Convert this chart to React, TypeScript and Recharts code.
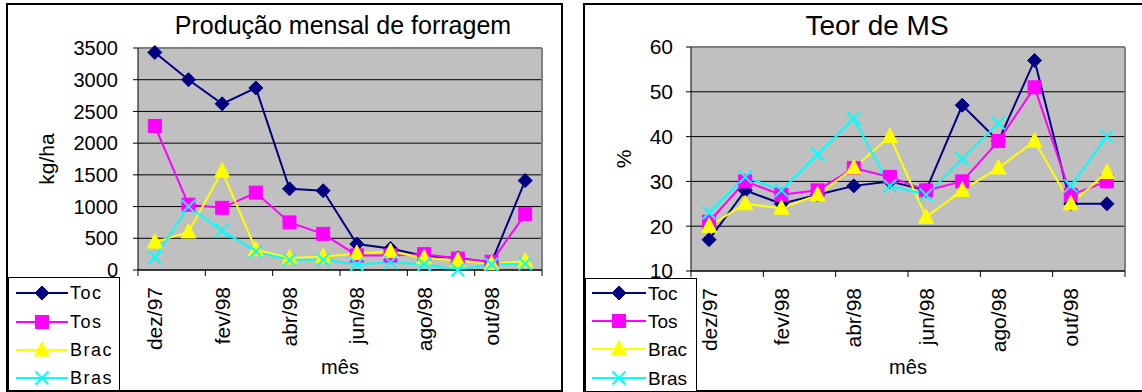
import React from 'react';
import { LineChart, Line, XAxis, YAxis, CartesianGrid } from 'recharts';

// Meses de avaliação
const meses = ['dez/97', 'jan/98', 'fev/98', 'mar/98', 'abr/98', 'mai/98', 'jun/98', 'jul/98', 'ago/98', 'set/98', 'out/98', 'nov/98'];

// Produção mensal de forragem (kg/ha)
const prodToc = [3430, 3000, 2620, 2870, 1280, 1250, 410, 340, 220, 190, 120, 1410];
const prodTos = [2270, 1030, 980, 1220, 750, 570, 230, 230, 250, 180, 130, 880];
const prodBrac = [440, 600, 1560, 320, 190, 210, 260, 290, 190, 150, 100, 140];
const prodBras = [200, 1000, 620, 290, 160, 160, 90, 120, 90, 0, 90, 100];
const prodTicks = [0, 500, 1000, 1500, 2000, 2500, 3000, 3500];

// Teor de matéria seca (%)
const msToc = [17, 28, 25, 27, 29, 30, 28, 47, 39, 57, 25, 25];
const msTos = [21, 30, 27, 28, 33, 31, 28, 30, 39, 51, 27, 30];
const msBrac = [20, 25, 24, 27, 33, 40, 22, 28, 33, 39, 25, 32];
const msBras: (number | null)[] = [23, 31, 28, 36, 44, 29, 27, 35, 43, null, 29, 40];
const msTicks = [10, 20, 30, 40, 50, 60];

type Shape = 'diamond' | 'square' | 'triangle' | 'cross';

const series: { key: string; color: string; shape: Shape }[] = [
  { key: 'Toc', color: '#000080', shape: 'diamond' },
  { key: 'Tos', color: '#FF00FF', shape: 'square' },
  { key: 'Brac', color: '#FFFF00', shape: 'triangle' },
  { key: 'Bras', color: '#00FFFF', shape: 'cross' },
];

const prodData = meses.map((mes, i) => ({
  mes,
  Toc: prodToc[i],
  Tos: prodTos[i],
  Brac: prodBrac[i],
  Bras: prodBras[i],
}));

const msData = meses.map((mes, i) => ({
  mes,
  Toc: msToc[i],
  Tos: msTos[i],
  Brac: msBrac[i],
  Bras: msBras[i],
}));

const FONT = '"Liberation Sans", Arial, Helvetica, sans-serif';

function Marker({ shape, color, cx, cy }: { shape: Shape; color: string; cx: number; cy: number }) {
  switch (shape) {
    case 'diamond':
      return (
        <polygon
          points={`${cx},${cy - 7} ${cx + 7},${cy} ${cx},${cy + 7} ${cx - 7},${cy}`}
          fill={color}
          stroke={color}
          strokeWidth={1}
        />
      );
    case 'square':
      return <rect x={cx - 6.5} y={cy - 6.5} width={13} height={13} fill={color} stroke={color} strokeWidth={1} />;
    case 'triangle':
      return (
        <polygon
          points={`${cx},${cy - 8.5} ${cx + 7.5},${cy + 6} ${cx - 7.5},${cy + 6}`}
          fill={color}
          stroke={color}
          strokeWidth={1}
        />
      );
    default:
      return (
        <g stroke={color} strokeWidth={2}>
          <line x1={cx - 6.5} y1={cy - 6.5} x2={cx + 6.5} y2={cy + 6.5} />
          <line x1={cx - 6.5} y1={cy + 6.5} x2={cx + 6.5} y2={cy - 6.5} />
        </g>
      );
  }
}

const makeDot = (shape: Shape, color: string) => (props: any) => {
  const { cx, cy, index } = props;
  if (cx == null || cy == null || Number.isNaN(cx) || Number.isNaN(cy)) {
    return <g key={`dot-${index}`} />;
  }
  return (
    <g key={`dot-${index}`}>
      <Marker shape={shape} color={color} cx={cx} cy={cy} />
    </g>
  );
};

// Category ticks: month label at the band centre, tick mark on the band boundary every two months
const makeXTick = (halfBand: number, fontSize: number) => (props: any) => {
  const { x, y, payload } = props;
  const idx = meses.indexOf(payload.value);
  const last = idx + 2 >= meses.length;
  return (
    <g>
      <line x1={x - halfBand} y1={y} x2={x - halfBand} y2={y + 6} stroke="#000" strokeWidth={1} />
      {last && (
        <line x1={x + 3 * halfBand} y1={y} x2={x + 3 * halfBand} y2={y + 6} stroke="#000" strokeWidth={1} />
      )}
      <text
        transform={`translate(${x},${y + 17}) rotate(-90)`}
        textAnchor="end"
        dy="0.36em"
        fontSize={fontSize}
        fill="#000"
        fontFamily={FONT}
      >
        {payload.value}
      </text>
    </g>
  );
};

function EixoY(props: any) {
  const { viewBox, text, dxFromLeft, fontSize } = props;
  const vb = viewBox || { x: 0, y: 0, width: 0, height: 0 };
  const cx = vb.x + dxFromLeft;
  const cy = vb.y + vb.height / 2;
  return (
    <text
      transform={`translate(${cx},${cy}) rotate(-90)`}
      textAnchor="middle"
      dy="0.36em"
      fontSize={fontSize}
      fill="#000"
      fontFamily={FONT}
    >
      {text}
    </text>
  );
}

type PainelProps = {
  data: any[];
  ticks: number[];
  width: number;
  height: number;
  margin: { top: number; right: number; left: number; bottom: number };
  yAxisWidth: number;
  xAxisHeight: number;
  yFont: number;
  yTickMargin: number;
  yLabel: string;
};

function Painel(p: PainelProps) {
  const plotWidth = p.width - p.margin.left - p.margin.right - p.yAxisWidth;
  const halfBand = plotWidth / meses.length / 2;
  const domain: [number, number] = [p.ticks[0], p.ticks[p.ticks.length - 1]];
  return (
    <LineChart width={p.width} height={p.height} data={p.data} margin={p.margin}>
      <CartesianGrid vertical={false} stroke="#000" strokeWidth={1} fill="#C0C0C0" fillOpacity={1} />
      {/* grey frame on the top and right of the plot area */}
      <CartesianGrid
        stroke="#808080"
        strokeWidth={2}
        horizontalCoordinatesGenerator={(g: any) => [g.offset.top]}
        verticalCoordinatesGenerator={(g: any) => [g.offset.left + g.offset.width]}
      />
      <XAxis
        dataKey="mes"
        type="category"
        interval={1}
        padding={{ left: halfBand, right: halfBand }}
        height={p.xAxisHeight}
        tickSize={0}
        tickMargin={0}
        tickLine={false}
        axisLine={{ stroke: '#000', strokeWidth: 1 }}
        tick={makeXTick(halfBand, 21)}
        label={{ value: 'mês', position: 'insideBottom', offset: 17, fill: '#000', fontSize: 20, fontFamily: FONT }}
      />
      <YAxis
        type="number"
        domain={domain}
        ticks={p.ticks}
        interval={0}
        width={p.yAxisWidth}
        tickSize={5}
        tickMargin={p.yTickMargin}
        tickLine={{ stroke: '#000' }}
        axisLine={{ stroke: '#000', strokeWidth: 1 }}
        tick={{ fill: '#000', fontSize: p.yFont, fontFamily: FONT }}
        label={<EixoY text={p.yLabel} dxFromLeft={39} fontSize={21} />}
      />
      {series.map((s) => (
        <Line
          key={s.key}
          dataKey={s.key}
          type="linear"
          stroke={s.color}
          strokeWidth={2}
          dot={makeDot(s.shape, s.color)}
          activeDot={false}
          isAnimationActive={false}
          connectNulls={false}
        />
      ))}
    </LineChart>
  );
}

function Legenda({
  left,
  top,
  rowY,
  lineX1,
  lineX2,
  markerX,
  textX,
  fontSize,
  letterSpacing,
}: {
  left: number;
  top: number;
  rowY: number[];
  lineX1: number;
  lineX2: number;
  markerX: number;
  textX: number;
  fontSize: number;
  letterSpacing: number;
}) {
  const w = 112;
  const h = 114;
  return (
    <svg
      width={w}
      height={h}
      style={{ position: 'absolute', left, top, background: '#fff', overflow: 'visible' }}
    >
      <rect x={0.5} y={0.5} width={w - 1} height={h - 1} fill="#fff" stroke="#000" strokeWidth={1} />
      {series.map((s, i) => (
        <g key={s.key}>
          <line x1={lineX1} y1={rowY[i]} x2={lineX2} y2={rowY[i]} stroke={s.color} strokeWidth={2} />
          <Marker shape={s.shape} color={s.color} cx={markerX} cy={rowY[i]} />
          <text
            x={textX}
            y={rowY[i]}
            dy="0.36em"
            fontSize={fontSize}
            fill="#000"
            fontFamily={FONT}
            letterSpacing={letterSpacing}
          >
            {s.key}
          </text>
        </g>
      ))}
    </svg>
  );
}

export default function App() {
  return (
    <div
      style={{
        position: 'absolute',
        left: 0,
        top: 0,
        width: 1142,
        height: 392,
        background: '#fff',
        overflow: 'hidden',
        fontFamily: FONT,
      }}
    >
      {/* Produção mensal de forragem */}
      <div
        style={{
          position: 'absolute',
          left: 6,
          top: 3,
          width: 557,
          height: 389,
          boxSizing: 'border-box',
          border: '2px solid #000',
        }}
      />
      <div style={{ position: 'absolute', left: 7, top: 4 }}>
        <Painel
          data={prodData}
          ticks={prodTicks}
          width={555}
          height={387}
          margin={{ top: 44, right: 20, left: 0, bottom: 0 }}
          yAxisWidth={131}
          xAxisHeight={121}
          yFont={20}
          yTickMargin={15}
          yLabel="kg/ha"
        />
      </div>
      <div
        style={{
          position: 'absolute',
          left: 343,
          top: 13,
          transform: 'translateX(-50%)',
          fontSize: 25,
          lineHeight: '25px',
          whiteSpace: 'nowrap',
          color: '#000',
        }}
      >
        Produção mensal de forragem
      </div>
      <Legenda
        left={8}
        top={277}
        rowY={[16, 45, 73, 101]}
        lineX1={8}
        lineX2={60}
        markerX={34}
        textX={62}
        fontSize={18}
        letterSpacing={1.5}
      />

      {/* Teor de MS */}
      <div
        style={{
          position: 'absolute',
          left: 583,
          top: 3,
          width: 570,
          height: 389,
          boxSizing: 'border-box',
          border: '2px solid #000',
        }}
      />
      <div style={{ position: 'absolute', left: 584, top: 4 }}>
        <Painel
          data={msData}
          ticks={msTicks}
          width={558}
          height={387}
          margin={{ top: 43, right: 17, left: 0, bottom: 0 }}
          yAxisWidth={107}
          xAxisHeight={120}
          yFont={21}
          yTickMargin={13}
          yLabel="%"
        />
      </div>
      <div
        style={{
          position: 'absolute',
          left: 877,
          top: 12,
          transform: 'translateX(-50%)',
          fontSize: 28,
          lineHeight: '28px',
          whiteSpace: 'nowrap',
          color: '#000',
        }}
      >
        Teor de MS
      </div>
      <Legenda
        left={585}
        top={278}
        rowY={[15, 43, 71, 100]}
        lineX1={7}
        lineX2={61}
        markerX={34}
        textX={63}
        fontSize={19}
        letterSpacing={0}
      />
    </div>
  );
}
